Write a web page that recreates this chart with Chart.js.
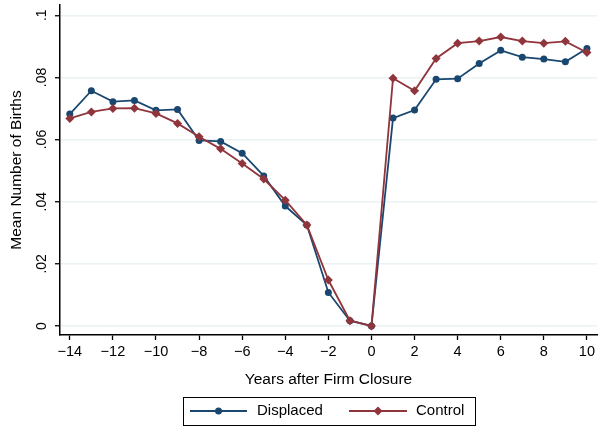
<!DOCTYPE html>
<html>
<head>
<meta charset="utf-8">
<script src="https://cdn.jsdelivr.net/npm/chart.js@4/dist/chart.umd.min.js"></script>
<style>
  html, body { margin: 0; padding: 0; background: #fff; }
  #wrap { width: 598px; height: 426px; }
</style>
</head>
<body>
<div id="wrap"><canvas id="grafico"></canvas></div>
<script>
// years relative to closure
var anni = [-14, -13, -12, -11, -10, -9, -8, -7, -6, -5, -4, -3, -2, -1, 0, 1, 2, 3, 4, 5, 6, 7, 8, 9, 10];
var displaced = [0.0682, 0.0757, 0.0722, 0.0726, 0.0694, 0.0697, 0.0597, 0.0594, 0.0556, 0.0483, 0.0386, 0.0325, 0.0108, 0.0017, 0.0,
                 0.0669, 0.0695, 0.0794, 0.0796, 0.0845, 0.0887, 0.0865, 0.0859, 0.0850, 0.0893];
var control = [0.0668, 0.0689, 0.0700, 0.0701, 0.0684, 0.0652, 0.0609, 0.0570, 0.0523, 0.0473, 0.0405, 0.0325, 0.0148, 0.0017, 0.0,
               0.0797, 0.0757, 0.0861, 0.0910, 0.0917, 0.0930, 0.0917, 0.0910, 0.0916, 0.0880];
var xTicks = [-14, -12, -10, -8, -6, -4, -2, 0, 2, 4, 6, 8, 10];
var xTickLabels = ['\u221214', '\u221212', '\u221210', '\u22128', '\u22126', '\u22124', '\u22122', '0', '2', '4', '6', '8', '10'];
var yTicks = [0, 0.02, 0.04, 0.06, 0.08, 0.1];
var yTickLabels = ['0', '.02', '.04', '.06', '.08', '.1'];

var NAVY = '#1a476f';
var MAROON = '#90353b';
var FONT = '"Liberation Sans", Arial, sans-serif';

function punti(valori) {
    var out = [];
    for (var i = 0; i < anni.length; i++) {
        out.push({ x: anni[i], y: valori[i] });
    }
    return out;
}

// y tick labels rotated, like Stata
var etichetteY = {
    id: 'etichetteY',
    afterDraw: function (chart) {
        var ctx = chart.ctx;
        var s = chart.scales.y;
        ctx.save();
        ctx.fillStyle = '#000';
        ctx.font = '14px ' + FONT;
        ctx.textAlign = 'center';
        ctx.textBaseline = 'middle';
        for (var i = 0; i < yTicks.length; i++) {
            var py = s.getPixelForValue(yTicks[i]);
            ctx.save();
            ctx.translate(42.5, py);
            ctx.rotate(-Math.PI / 2);
            ctx.fillText(yTickLabels[i], 0, 0);
            ctx.restore();
        }
        ctx.restore();
    }
};

// boxed legend at bottom
var legenda = {
    id: 'legenda',
    afterDraw: function (chart) {
        var ctx = chart.ctx;
        ctx.save();
        ctx.strokeStyle = '#000';
        ctx.lineWidth = 1;
        ctx.strokeRect(183.5, 397.5, 292, 28);
        var cy = 411;
        var voci = [
            { x1: 190, x2: 247, col: NAVY, forma: 'circle', testo: 'Displaced', tx: 257 },
            { x1: 349, x2: 407, col: MAROON, forma: 'diamond', testo: 'Control', tx: 416 }
        ];
        ctx.font = '15px ' + FONT;
        ctx.textBaseline = 'middle';
        ctx.textAlign = 'left';
        voci.forEach(function (v) {
            ctx.strokeStyle = v.col;
            ctx.lineWidth = 2;
            ctx.beginPath();
            ctx.moveTo(v.x1, cy);
            ctx.lineTo(v.x2, cy);
            ctx.stroke();
            var mx = (v.x1 + v.x2) / 2;
            ctx.fillStyle = v.col;
            ctx.beginPath();
            if (v.forma === 'circle') {
                ctx.arc(mx, cy, 3.5, 0, Math.PI * 2);
            } else {
                ctx.moveTo(mx, cy - 4.5);
                ctx.lineTo(mx + 4.5, cy);
                ctx.lineTo(mx, cy + 4.5);
                ctx.lineTo(mx - 4.5, cy);
                ctx.closePath();
            }
            ctx.fill();
            ctx.fillStyle = '#000';
            ctx.fillText(v.testo, v.tx, cy);
        });
        ctx.restore();
    }
};

var ctx = document.getElementById('grafico');
var chart = new Chart(ctx, {
    type: 'line',
    data: {
        datasets: [{
            label: 'Displaced',
            data: punti(displaced),
            borderColor: NAVY,
            backgroundColor: NAVY,
            borderWidth: 1.8,
            pointStyle: 'circle',
            pointRadius: 3.5,
            pointBorderWidth: 0,
            lineTension: 0,
            order: 1
        }, {
            label: 'Control',
            data: punti(control),
            borderColor: MAROON,
            backgroundColor: MAROON,
            borderWidth: 1.8,
            pointStyle: 'rectRot',
            pointRadius: 4.5,
            pointBorderWidth: 0,
            lineTension: 0,
            order: 0
        }]
    },
    options: {
        responsive: true,
        maintainAspectRatio: false,
        animation: false,
        layout: { autoPadding: false, padding: { top: 5, right: 0, left: 0, bottom: 36 } },
        plugins: {
            legend: { display: false },
            tooltip: { enabled: false }
        },
        scales: {
            x: {
                type: 'linear',
                min: -14.455,
                max: 10.47,
                afterBuildTicks: function (s) {
                    s.ticks = xTicks.map(function (v) { return { value: v }; });
                },
                afterFit: function (s) {
                    s.height = 55;
                },
                ticks: {
                    color: '#000',
                    padding: 3,
                    maxRotation: 0,
                    font: { family: FONT, size: 14.5 },
                    callback: function (v) {
                        var i = xTicks.indexOf(v);
                        return i >= 0 ? xTickLabels[i] : '';
                    }
                },
                grid: { drawOnChartArea: false, drawTicks: true, tickLength: 5, tickColor: '#000', tickWidth: 1.3 },
                border: { color: '#000', width: 1.5 },
                title: {
                    display: true,
                    text: 'Years after Firm Closure',
                    color: '#000',
                    font: { family: FONT, size: 15.5 },
                    padding: { top: 0, bottom: 1 }
                }
            },
            y: {
                min: -0.0029,
                max: 0.1033,
                afterBuildTicks: function (s) {
                    s.ticks = yTicks.map(function (v) { return { value: v }; });
                },
                afterFit: function (s) {
                    s.width = 60;
                },
                ticks: { display: false },
                grid: { color: '#eaf2f3', lineWidth: 1.5, drawTicks: true, tickLength: 5, tickColor: '#000', tickWidth: 1.3 },
                border: { color: '#000', width: 1.5 },
                title: {
                    display: true,
                    text: 'Mean Number of Births',
                    color: '#000',
                    font: { family: FONT, size: 15.5 },
                    padding: { top: 7, bottom: 0 }
                }
            }
        }
    },
    plugins: [etichetteY, legenda]
});
</script>
</body>
</html>
